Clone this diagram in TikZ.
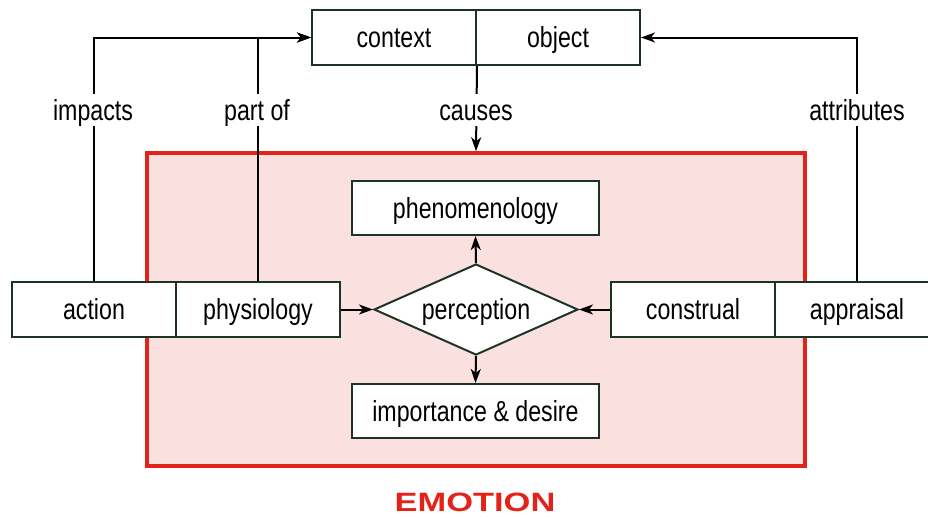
\documentclass[tikz,border=0pt]{standalone}
\usepackage{fontspec}
\setmainfont{Liberation Sans}[FakeStretch=0.8]
\newfontfamily\emofont{Liberation Sans}[FakeStretch=1.3]
\usetikzlibrary{shapes.geometric,arrows.meta}
\definecolor{emored}{RGB}{226,35,26}
\definecolor{emopink}{RGB}{251,224,224}
\definecolor{boxline}{RGB}{28,52,40}
\begin{document}
\begin{tikzpicture}[x=1pt,y=-1pt,
  every node/.style={font=\fontsize{29}{32}\selectfont,text height=20pt,text depth=0pt},
  box/.style={draw=boxline,line width=2pt,fill=white,rectangle,inner sep=0pt},
  smallbox/.style={box,minimum width=164pt,minimum height=55pt},
  widebox/.style={box,minimum width=247pt,minimum height=54pt},
  arr/.style={line width=2pt,-{Stealth[length=14pt,width=10pt,inset=4pt]}},
  lbl/.style={fill=white,inner sep=6pt}]
\useasboundingbox (0,0) rectangle (928,517);
% emotion region
\node[draw=emored,fill=emopink,line width=3.5pt,rectangle,inner sep=0pt,
  minimum width=658pt,minimum height=313pt] (emo) at (476,309.5) {};
\node[text=emored,font=\emofont\bfseries\fontsize{26.5}{28}\selectfont,anchor=base] (emolabel) at (475,511) {EMOTION};
% top boxes
\node[smallbox] (context) at (394,37.5) {context};
\node[smallbox] (object) at (558,37.5) {object};
% side boxes
\node[smallbox] (action) at (94,309.5) {action};
\node[smallbox] (physiology) at (258,309.5) {physiology};
\node[smallbox] (construal) at (693,309.5) {construal};
\node[smallbox] (appraisal) at (857,309.5) {appraisal};
% inner
\node[widebox] (phen) at (475.5,208) {phenomenology};
\node[widebox] (imp) at (475.5,411) {importance \& desire};
\node[draw=boxline,line width=2pt,fill=white,diamond,inner sep=0pt,aspect=2.24,
  minimum width=204pt,minimum height=91pt] (perc) at (476,309.5) {perception};
% connectors
\draw[arr] (action.north) |- (context.west);
\draw[arr] (physiology.north) |- (context.west);
\draw[arr] (appraisal.north) |- (object.east);
\draw[arr] (context.south east) -- (emo.north);
\draw[arr] (physiology.east) -- (perc.west);
\draw[arr] (construal.west) -- (perc.east);
\draw[arr] (perc.north) -- (phen.south);
\draw[arr] (perc.south) -- (imp.north);
% labels
\node[lbl] (limpacts) at (93,110) {impacts};
\node[lbl] (lpartof) at (257,110) {part of};
\node[lbl] (lcauses) at (476,110) {causes};
\node[lbl] (lattr) at (857,110) {attributes};
\end{tikzpicture}
\end{document}
